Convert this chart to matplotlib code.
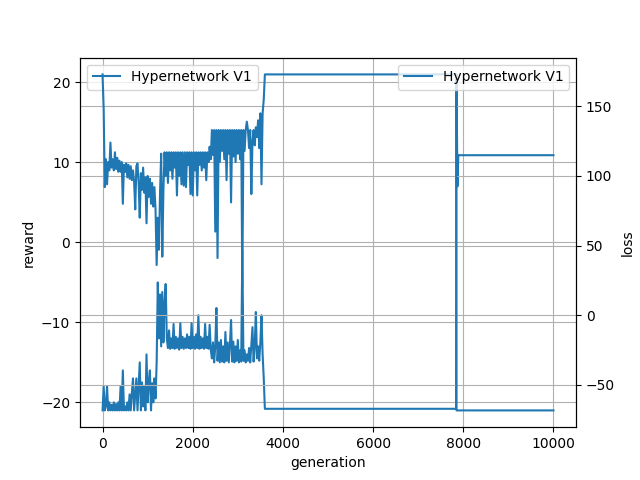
import numpy as np
import matplotlib
matplotlib.use('Agg')
import matplotlib.pyplot as plt

# noisy part of the run, sampled every 25 generations
noisy_gen = np.arange(0, 3600, 25)

reward_noisy = [
    -21, -18, -21, -20.5, -18, -21, -20, -21, -20.3, -21, -20, -21,
    -20.2, -21, -20, -21, -18, -21, -16, -21, -20.5, -21, -20, -21,
    -19, -21, -18.8, -17, -21, -19, -17, -21, -18, -15, -21, -17.5,
    -20.5, -18, -21, -14, -20, -17.5, -16, -21, -17.6, -20, -17, -19.5,
    -15, -5, -12, -6.5, -13, -6.2, -12.5, -7.5, -5.2, -12, -13.2, -11,
    -13.3, -12, -13.2, -10.2, -13.3, -11.8, -13.2, -12, -13.4, -10.1, -13.2, -11.8,
    -13.3, -12, -13.2, -11.5, -13.2, -11.8, -13.3, -10.1, -13.2, -11.8, -13.3, -11.5,
    -13.2, -9.1, -13.3, -11.8, -13.2, -12, -13.3, -10.2, -13.2, -11.8, -13.3, -10.3,
    -13.4, -14.5, -12.5, -15, -13, -8.2, -14.8, -12.5, -15, -12.2, -14.9, -13,
    -15, -11.2, -14.8, -12.5, -15, -12.8, -9.7, -14.9, -12.4, -15, -13, -14.8,
    -12.2, -15, -13.5, -14.9, -1, -14.8, -13.5, -15, -14, -14.8, -13.2, -15,
    -12.8, -10.6, -14.9, -13, -8.7, -14.5, -13, -14.8, -12.5, -9.1, -14, -17,
]

loss_noisy = [
    173, 148, 92, 112, 94, 110, 104, 124, 106, 112, 104, 117,
    105, 113, 103, 111, 103, 110, 80, 108, 103, 109, 99, 108,
    98, 107, 97, 104, 96, 76, 107, 109, 95, 70, 102, 90,
    106, 88, 99, 66, 100, 85, 98, 80, 95, 78, 92, 76,
    36, 70, 47, 88, 116, 42, 90, 117, 100, 117, 95, 117,
    104, 117, 98, 117, 106, 117, 86, 117, 100, 117, 94, 117,
    93, 117, 92, 117, 108, 117, 87, 117, 86, 117, 104, 117,
    86, 117, 108, 117, 104, 117, 106, 117, 97, 117, 110, 121,
    112, 133, 115, 133, 60, 133, 41, 133, 110, 133, 118, 133,
    112, 133, 97, 133, 116, 133, 81, 133, 114, 133, 110, 133,
    116, 133, 112, 133, 20, 133, 118, 133, 139, 133, 120, 133,
    87, 125, 133, 122, 135, 128, 140, 120, 145, 94, 145, 155,
]

# flat part after generation 3600
reward_tail_gen = [3600, 7840, 7850, 7870, 7890, 10000]
reward_tail = [-20.8, -20.8, 21, 7, 10.9, 10.9]

loss_tail_gen = [3600, 7840, 7850, 10000]
loss_tail = [173, 173, -68.5, -68.5]

reward_gen = np.concatenate([noisy_gen, reward_tail_gen])
reward = np.concatenate([reward_noisy, reward_tail])
loss_gen = np.concatenate([noisy_gen, loss_tail_gen])
loss = np.concatenate([loss_noisy, loss_tail])

fig, ax = plt.subplots(figsize=(6.4, 4.8), dpi=100)
ax.plot(reward_gen, reward, label='Hypernetwork V1')
ax.set_xlabel('generation')
ax.set_ylabel('reward')
ax.grid()
ax.legend(loc='upper left')

ax2 = ax.twinx()
ax2.plot(loss_gen, loss, label='Hypernetwork V1')
ax2.set_ylabel('loss')
ax2.grid()
ax2.legend(loc='upper right')

plt.savefig('out.png')
